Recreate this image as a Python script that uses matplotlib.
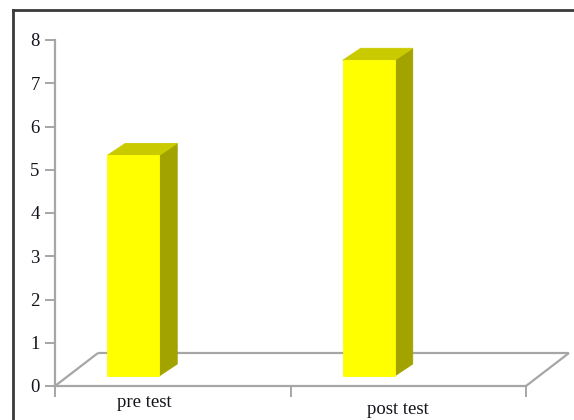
import matplotlib
matplotlib.use("Agg")
import matplotlib.pyplot as plt
from matplotlib.patches import Polygon
from matplotlib.lines import Line2D

# data
categories = ["pre test", "post test"]
scores = [5.1, 7.3]
y_ticks = [0, 1, 2, 3, 4, 5, 6, 7, 8]

# look of the pseudo-3D columns
FRONT = "#ffff00"
SIDE = "#a3a300"
TOP = "#caca00"
GRID = "#a6a6a6"
TEXT = "#14141c"

W, H = 574, 420
fig = plt.figure(figsize=(W / 100, H / 100), dpi=100)
fig.patch.set_facecolor("white")

# axes placed in pixel terms: y axis at x=55, front floor edge at y=386
x0, x1, y0, y1 = 55, 526, 386, 40
ax = fig.add_axes([x0 / W, 1 - y0 / H, (x1 - x0) / W, (y0 - y1) / H])
ax.set_xlim(0, len(categories))
ax.set_ylim(0, 8)

# pixel -> data scale factors
sx = len(categories) / (x1 - x0)
sy = 8 / (y0 - y1)

for s in ["top", "right"]:
    ax.spines[s].set_visible(False)
for s in ["left", "bottom"]:
    ax.spines[s].set_color(GRID)
    ax.spines[s].set_linewidth(1.6)

ax.set_yticks(y_ticks)
ax.set_yticklabels([str(t) for t in y_ticks], fontsize=13.5,
                   family="Liberation Serif", color=TEXT)
ax.tick_params(axis="y", length=7, width=1.4, color=GRID, pad=4)
ax.set_xticks(range(len(categories) + 1))
ax.set_xticklabels([])
ax.tick_params(axis="x", length=8, width=1.4, color=GRID)

# floor: back edge and the two receding sides
dx, dy = 43 * sx, 33 * sy
n = len(categories)
for xs, ys in [([0, dx], [0, dy]), ([n, n + dx], [0, dy]), ([dx, n + dx], [dy, dy])]:
    ax.add_line(Line2D(xs, ys, color=GRID, lw=1.6, clip_on=False,
                       solid_capstyle="butt"))

# columns
bar_w = 52 * sx
shift = -0.223            # column centre relative to category centre
fx, fy = 13 * sx, 10 * sy  # front face sits a little into the floor
bx, by = 18 * sx, 12 * sy  # column depth
for i, v in enumerate(scores):
    left = i + 0.5 + shift - bar_w / 2 + fx
    right = left + bar_w
    bot = fy
    top = fy + v
    front = [(left, bot), (right, bot), (right, top), (left, top)]
    side = [(right, bot), (right + bx, bot + by), (right + bx, top + by), (right, top)]
    lid = [(left, top), (right, top), (right + bx, top + by), (left + bx, top + by)]
    for pts, c in [(side, SIDE), (lid, TOP), (front, FRONT)]:
        ax.add_patch(Polygon(pts, closed=True, facecolor=c, edgecolor=c,
                             lw=0.6, clip_on=False, zorder=3))

# category labels under the floor
label_dx = [-0.12, -0.045]
label_dy = [8, 15]
for i, name in enumerate(categories):
    ax.text(i + 0.5 + label_dx[i], -label_dy[i] * sy, name, ha="center", va="top",
            fontsize=13.5, family="Liberation Serif", color=TEXT, clip_on=False)

# outer chart frame (runs off the right and bottom of the image)
fx0, fy0 = 13 / W, 1 - 10 / H
fig.add_artist(Line2D([fx0, fx0], [fy0, -0.05], transform=fig.transFigure,
                      color="#3a3a3a", lw=2.0))
fig.add_artist(Line2D([fx0, 1.05], [fy0, fy0], transform=fig.transFigure,
                      color="#3a3a3a", lw=2.0))

fig.savefig("out.png", dpi=100)
